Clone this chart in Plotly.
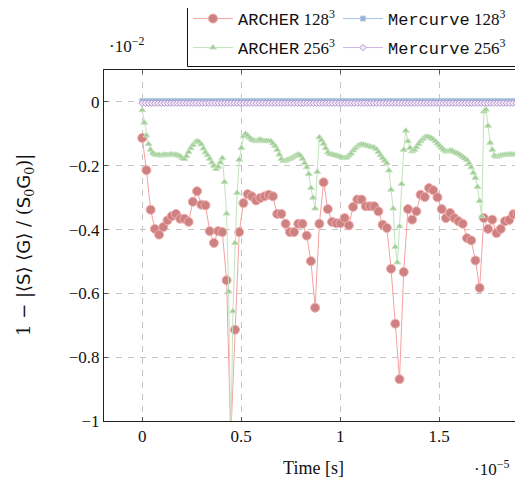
import numpy as np
import plotly.graph_objects as go

# time step (units of 1e-5 s)
DT_128 = 0.0213
DT_256 = 0.01065
DT_MERC = 0.016

ARCHER_128 = [
    -0.113, -0.214, -0.338, -0.398, -0.416, -0.392, -0.371, -0.358, -0.351, -0.366,
    -0.366, -0.376, -0.313, -0.280, -0.322, -0.324, -0.405, -0.442, -0.405, -0.408,
    -0.559, -1.050, -0.714, -0.408, -0.317, -0.289, -0.296, -0.309, -0.301, -0.296,
    -0.291, -0.296, -0.351, -0.351, -0.382, -0.408, -0.408, -0.382, -0.382, -0.419,
    -0.499, -0.645, -0.382, -0.252, -0.336, -0.376, -0.380, -0.380, -0.364, -0.387,
    -0.329, -0.306, -0.306, -0.327, -0.327, -0.327, -0.343, -0.385, -0.395, -0.523,
    -0.695, -0.869, -0.533, -0.336, -0.369, -0.343, -0.291, -0.298, -0.270, -0.277,
    -0.299, -0.336, -0.364, -0.348, -0.364, -0.374, -0.382, -0.427, -0.434, -0.497,
    -0.583, -0.364, -0.398, -0.369, -0.411, -0.398, -0.374, -0.370, -0.352, -0.350,
    -0.343,
]

ARCHER_256 = [
    -0.026, -0.065, -0.105, -0.132, -0.150, -0.160, -0.165, -0.167, -0.166, -0.168,
    -0.166, -0.165, -0.167, -0.165, -0.164, -0.166, -0.165, -0.168, -0.170, -0.176,
    -0.179, -0.170, -0.157, -0.145, -0.135, -0.127, -0.123, -0.125, -0.133, -0.146,
    -0.158, -0.167, -0.178, -0.190, -0.200, -0.210, -0.203, -0.190, -0.176, -0.251,
    -0.350, -0.594, -1.100, -0.656, -0.442, -0.285, -0.181, -0.144, -0.108, -0.100,
    -0.105, -0.112, -0.118, -0.121, -0.123, -0.120, -0.118, -0.121, -0.123, -0.122,
    -0.123, -0.123, -0.130, -0.138, -0.150, -0.165, -0.179, -0.185, -0.184, -0.181,
    -0.178, -0.175, -0.171, -0.168, -0.165, -0.168, -0.178, -0.192, -0.205, -0.226,
    -0.270, -0.300, -0.334, -0.219, -0.111, -0.120, -0.131, -0.145, -0.158, -0.163,
    -0.165, -0.166, -0.168, -0.170, -0.172, -0.175, -0.176, -0.174, -0.168, -0.162,
    -0.152, -0.145, -0.139, -0.135, -0.133, -0.134, -0.136, -0.138, -0.140, -0.142,
    -0.143, -0.148, -0.157, -0.167, -0.176, -0.184, -0.192, -0.215, -0.275, -0.334,
    -0.455, -0.503, -0.390, -0.257, -0.150, -0.090, -0.123, -0.144, -0.155, -0.150,
    -0.142, -0.132, -0.123, -0.116, -0.111, -0.109, -0.110, -0.113, -0.117, -0.123,
    -0.130, -0.137, -0.144, -0.150, -0.155, -0.155, -0.152, -0.153, -0.157, -0.160,
    -0.163, -0.167, -0.172, -0.177, -0.182, -0.192, -0.205, -0.222, -0.238, -0.266,
    -0.310, -0.358, -0.030, -0.024, -0.075, -0.128, -0.150, -0.168, -0.172, -0.170,
    -0.168, -0.167, -0.166, -0.165, -0.165, -0.164, -0.165, -0.164, -0.165, -0.164,
    -0.165,
]

MERCURVE_128_LEVEL = 0.003
MERCURVE_256_LEVEL = -0.004
N_MERC = 121
MERCURVE_128 = [MERCURVE_128_LEVEL] * N_MERC
MERCURVE_256 = [MERCURVE_256_LEVEL] * N_MERC

t128 = np.arange(len(ARCHER_128)) * DT_128
t256 = np.arange(len(ARCHER_256)) * DT_256
tm = np.arange(N_MERC) * DT_MERC

X_TICKS = [0, 0.5, 1, 1.5]
X_TICK_TEXT = ["0", "0.5", "1", "1.5"]
Y_TICKS = [0, -0.2, -0.4, -0.6, -0.8, -1]
Y_TICK_TEXT = ["0", "\u22120.2", "\u22120.4", "\u22120.6", "\u22120.8", "\u22121"]

SERIF = "Liberation Serif"

# The page has an 8px body margin: figure drawn at (8, 8) in the window.
OFF = 8
FIG_W = 523 - OFF
FIG_H = 490 - OFF
M_L, M_T = 104 - OFF, 70 - OFF
M_B = FIG_H - (421 - OFF)
PLOT_W = FIG_W - M_L


def cx(px):  # page x -> container fraction
    return (px - OFF) / FIG_W


def cy(py):  # page y -> container fraction
    return 1 - (py - OFF) / FIG_H


def paper_x(px):
    return (px - 104) / PLOT_W


def paper_y(py):
    return (421 - py) / 351.0


fig = go.Figure()

fig.add_trace(go.Scatter(
    x=t128, y=ARCHER_128, mode="lines+markers",
    name='<span style="font-family:Liberation Mono">ARCHER</span> 128<sup>3</sup>',
    line=dict(color="#f6a0a0", width=1),
    marker=dict(symbol="circle", size=9, color="#cd8181", line=dict(color="#f2aeae", width=1)),
    legend="legend", showlegend=True,
))
fig.add_trace(go.Scatter(
    x=tm, y=MERCURVE_128, mode="lines+markers",
    name='<span style="font-family:Liberation Mono">Mercurve</span> 128<sup>3</sup>',
    line=dict(color="#a9c3ea", width=1),
    marker=dict(symbol="square", size=5, color="#98b1d3", line=dict(color="#b8cce9", width=1)),
    legend="legend2", showlegend=True,
))
fig.add_trace(go.Scatter(
    x=t256, y=ARCHER_256, mode="lines+markers",
    name='<span style="font-family:Liberation Mono">ARCHER</span> 256<sup>3</sup>',
    line=dict(color="#c3e3bc", width=1),
    marker=dict(symbol="triangle-up", size=6, color="#9fcb96", line=dict(color="#c4e4be", width=1)),
    legend="legend3", showlegend=True,
))
fig.add_trace(go.Scatter(
    x=tm, y=MERCURVE_256, mode="lines+markers",
    name='<span style="font-family:Liberation Mono">Mercurve</span> 256<sup>3</sup>',
    line=dict(color="#d0b5e6", width=1),
    marker=dict(symbol="diamond", size=5, color="#f3ebf8", line=dict(color="#b697d2", width=1)),
    legend="legend4", showlegend=True,
))

legend_common = dict(
    bgcolor="rgba(0,0,0,0)", borderwidth=0, xanchor="left", yanchor="middle",
    xref="container", yref="container",
    font=dict(family=SERIF, size=17, color="#111"), itemwidth=40,
    orientation="v",
)

SANS_S = '<span style="font-family:DejaVu Sans">S</span>'
SANS_G = '<span style="font-family:DejaVu Sans">G</span>'
Y_TITLE = ('1 \u2212 |\u27e8' + SANS_S + '\u27e9 \u27e8' + SANS_G + '\u27e9 / ('
           + SANS_S + '<sub>0</sub>' + SANS_G + '<sub>0</sub>)|')

fig.update_layout(
    width=FIG_W, height=FIG_H, showlegend=True,
    margin=dict(l=M_L, r=0, t=M_T, b=M_B, autoexpand=False),
    paper_bgcolor="white", plot_bgcolor="white",
    font=dict(family=SERIF, size=17, color="#111"),
    xaxis=dict(
        range=[-0.193, 1.923], tickvals=X_TICKS, ticktext=X_TICK_TEXT,
        showgrid=True, gridcolor="#c4c4c4", griddash="6px,6px", gridwidth=1,
        zeroline=False, showline=True, linecolor="#222", linewidth=1, mirror="ticks",
        ticks="inside", ticklen=4, tickcolor="#555", automargin=False,
        title=dict(text="Time [s]", font=dict(family=SERIF, size=18), standoff=15),
    ),
    yaxis=dict(
        range=[-1, 0.1], tickvals=Y_TICKS, ticktext=Y_TICK_TEXT,
        showgrid=True, gridcolor="#c4c4c4", griddash="6px,6px", gridwidth=1,
        zeroline=False, showline=True, linecolor="#222", linewidth=1, mirror="ticks",
        ticks="inside", ticklen=4, tickcolor="#555", automargin=False,
    ),
    legend=dict(x=cx(188), y=cy(19), **legend_common),
    legend2=dict(x=cx(338), y=cy(19), **legend_common),
    legend3=dict(x=cx(188), y=cy(48), **legend_common),
    legend4=dict(x=cx(338), y=cy(48), **legend_common),
    shapes=[dict(
        type="rect", xref="paper", yref="paper",
        x0=paper_x(187.5), x1=paper_x(523),
        y0=paper_y(66.5), y1=paper_y(0.5),
        line=dict(color="#111", width=1), fillcolor="rgba(0,0,0,0)", layer="above",
    )],
    annotations=[
        dict(text="\u00b710<sup>\u22122</sup>", xref="paper", yref="paper",
             x=paper_x(107), y=paper_y(45), xanchor="left", yanchor="middle",
             showarrow=False, font=dict(family=SERIF, size=17, color="#111")),
        dict(text="\u00b710<sup>\u22125</sup>", xref="paper", yref="paper",
             x=paper_x(511), y=paper_y(468), xanchor="right", yanchor="middle",
             showarrow=False, font=dict(family=SERIF, size=17, color="#111")),
        dict(text=Y_TITLE, xref="paper", yref="paper", textangle=-90,
             x=paper_x(25), y=paper_y(245), xanchor="center", yanchor="middle",
             showarrow=False, font=dict(family="DejaVu Serif", size=18, color="#111")),
    ],
)

fig.write_html("out.html")
